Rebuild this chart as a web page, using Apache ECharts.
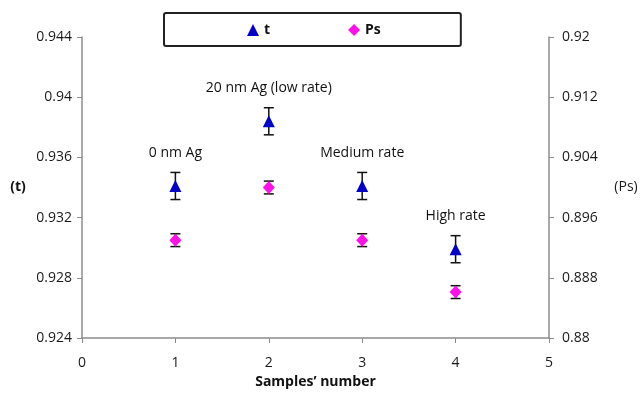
<!DOCTYPE html>
<html>
<head>
<meta charset="utf-8">
<script src="https://cdn.jsdelivr.net/npm/echarts@6/dist/echarts.min.js"></script>
<style>
  html, body { margin: 0; padding: 0; background: #fff; }
  #chart { width: 644px; height: 395px; }
</style>
</head>
<body>
<div id="chart"></div>
<script>
const samples = [1, 2, 3, 4];
const sampleLabels = ['0 nm Ag', '20 nm Ag (low rate)', 'Medium rate', 'High rate'];
const tValues = [0.9341, 0.9384, 0.9341, 0.9299];
const tError = [0.0009, 0.0009, 0.0009, 0.0009];
const psValues = [0.8930, 0.9000, 0.8930, 0.8861];
const psError = [0.00085, 0.00085, 0.00085, 0.00085];

const font = '"Open Sans", "Noto Sans", sans-serif';
const axisGray = '#8c8c8c';

const errorBar = (vals, errs, axisIdx) => ({
  type: 'custom',
  yAxisIndex: axisIdx,
  silent: true,
  z: 1,
  data: samples.map((s, i) => [s, vals[i] - errs[i], vals[i] + errs[i]]),
  renderItem(params, api) {
    const lo = api.coord([api.value(0), api.value(1)]);
    const hi = api.coord([api.value(0), api.value(2)]);
    const w = 5;
    const st = { stroke: '#111', lineWidth: 1.5 };
    return {
      type: 'group',
      children: [
        { type: 'line', shape: { x1: lo[0], y1: lo[1], x2: hi[0], y2: hi[1] }, style: st },
        { type: 'line', shape: { x1: lo[0] - w, y1: lo[1], x2: lo[0] + w, y2: lo[1] }, style: st },
        { type: 'line', shape: { x1: hi[0] - w, y1: hi[1], x2: hi[0] + w, y2: hi[1] }, style: st }
      ]
    };
  }
});

const chart = echarts.init(document.getElementById('chart'));
chart.setOption({
  animation: false,
  textStyle: { fontFamily: font },
  grid: { left: 82, right: 95, top: 37, bottom: 57 },
  legend: {
    left: 164,
    top: 13,
    padding: [10, 80, 9, 83],
    itemGap: 78,
    itemWidth: 12,
    itemHeight: 12,
    borderColor: '#222',
    borderWidth: 2,
    borderRadius: 2,
    textStyle: { fontFamily: font, fontSize: 14, fontWeight: 'bold', color: '#111' },
    data: [
      { name: 't', icon: 'triangle' },
      { name: 'Ps', icon: 'diamond' }
    ]
  },
  xAxis: {
    type: 'value',
    min: 0,
    max: 5,
    interval: 1,
    name: 'Samples’ number',
    nameLocation: 'middle',
    nameGap: 44,
    nameTextStyle: { fontFamily: font, fontSize: 14, fontWeight: 'bold', color: '#111', verticalAlign: 'middle' },
    axisLine: { lineStyle: { color: axisGray, width: 1.5 } },
    axisTick: { show: true, inside: false, length: 5, lineStyle: { color: axisGray } },
    axisLabel: { margin: 18, fontSize: 14, color: '#1a1a1a', fontFamily: font },
    splitLine: { show: false }
  },
  yAxis: [
    {
      type: 'value',
      position: 'left',
      min: 0.924,
      max: 0.944,
      interval: 0.004,
      name: '(t)',
      nameLocation: 'middle',
      nameRotate: 0,
      nameGap: 64,
      nameTextStyle: { fontFamily: font, fontSize: 14, fontWeight: 'bold', color: '#111', align: 'center', verticalAlign: 'middle' },
      axisLine: { show: true, lineStyle: { color: axisGray, width: 1.5 } },
      axisTick: { show: true, length: 5, lineStyle: { color: axisGray } },
      axisLabel: { margin: 10, fontSize: 14, color: '#1a1a1a', fontFamily: font, formatter: v => String(+v.toFixed(3)) },
      splitLine: { show: false }
    },
    {
      type: 'value',
      position: 'right',
      min: 0.88,
      max: 0.92,
      interval: 0.008,
      name: '(Ps)',
      nameLocation: 'middle',
      nameRotate: 0,
      nameGap: 77,
      nameTextStyle: { fontFamily: font, fontSize: 14, color: '#1a1a1a', align: 'center', verticalAlign: 'middle' },
      axisLine: { show: true, lineStyle: { color: axisGray, width: 1.5 } },
      axisTick: { show: true, length: 5, lineStyle: { color: axisGray } },
      axisLabel: { margin: 13, fontSize: 14, color: '#1a1a1a', fontFamily: font, formatter: v => String(+v.toFixed(3)) },
      splitLine: { show: false }
    }
  ],
  series: [
    errorBar(tValues, tError, 0),
    errorBar(psValues, psError, 1),
    {
      name: 't',
      type: 'scatter',
      yAxisIndex: 0,
      z: 3,
      symbol: 'triangle',
      symbolSize: 12,
      itemStyle: { color: '#0000c8', opacity: 1 },
      data: samples.map((s, i) => [s, tValues[i]]),
      label: {
        show: true,
        position: 'top',
        distance: 20,
        fontFamily: font,
        fontSize: 14,
        color: '#111',
        formatter: p => sampleLabels[p.dataIndex]
      }
    },
    {
      name: 'Ps',
      type: 'scatter',
      yAxisIndex: 1,
      z: 3,
      symbol: 'diamond',
      symbolSize: [12, 13],
      itemStyle: { color: '#ff10e6', opacity: 1 },
      data: samples.map((s, i) => [s, psValues[i]])
    }
  ]
});
</script>
</body>
</html>
